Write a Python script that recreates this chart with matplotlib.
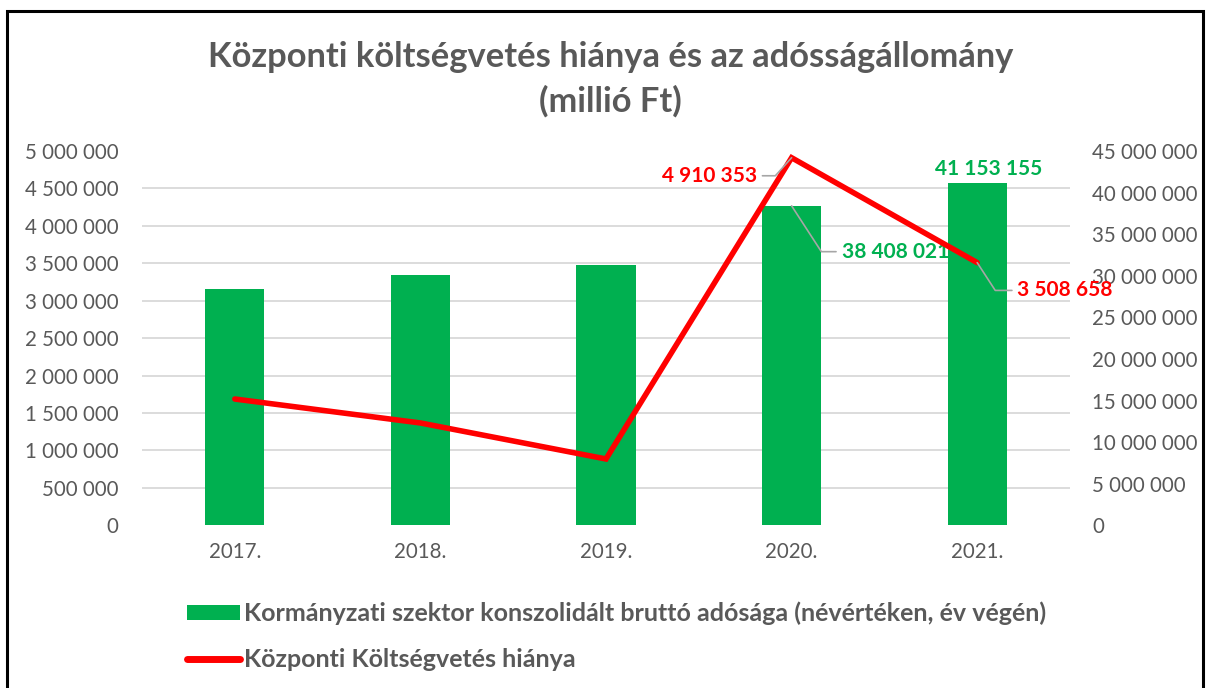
import matplotlib
matplotlib.use("Agg")
import matplotlib.pyplot as plt
import numpy as np
from matplotlib.patches import Patch, Rectangle
from matplotlib.lines import Line2D
from matplotlib.ticker import FuncFormatter

plt.rcParams['font.family'] = ['Lato', 'DejaVu Sans']

# Adatok
evek = ['2017.', '2018.', '2019.', '2020.', '2021.']
adossag = [28_410_000, 30_090_000, 31_260_000, 38_408_021, 41_153_155]
hiany = [1_687_000, 1_367_000, 886_000, 4_910_353, 3_508_658]

bal_tick = np.arange(0, 5_000_001, 500_000)
jobb_tick = np.arange(0, 45_000_001, 5_000_000)

szurke = '#595959'
zold = '#00B050'
piros = '#FF0000'


def ezres(v, pos=None):
    return f"{int(round(v)):,}".replace(",", " ")


W, H = 1206, 688
fig = plt.figure(figsize=(W / 100, H / 100), dpi=100)
fig.patch.set_facecolor('white')

ax = fig.add_axes([142 / W, 1 - 525.3 / H, (1070 - 142) / W, (525.3 - 151) / H])
ax2 = ax.twinx()
ax.set_zorder(ax2.get_zorder() + 1)
ax.patch.set_visible(False)

x = np.arange(len(evek))

# oszlopok a jobb tengelyen
ax2.bar(x, adossag, width=0.32, color=zold, zorder=2)
ax2.set_ylim(0, jobb_tick[-1])
ax2.set_yticks(jobb_tick)
ax2.yaxis.set_major_formatter(FuncFormatter(ezres))
# rácsvonalak a bal tengely beosztásához igazítva
ax2.set_yticks(bal_tick * (jobb_tick[-1] / bal_tick[-1]), minor=True)
ax2.yaxis.grid(True, which='minor', color='#D9D9D9', linewidth=1.3)
ax2.yaxis.grid(False, which='major')
ax2.set_axisbelow(True)
ax2.tick_params(axis='y', which='both', length=0, pad=16, labelsize=14.8, labelcolor=szurke)

# vonal a bal tengelyen
ax.plot(x, hiany, color=piros, linewidth=4, solid_capstyle='round', solid_joinstyle='miter', zorder=3)
ax.set_ylim(0, bal_tick[-1])
ax.set_yticks(bal_tick)
ax.yaxis.set_major_formatter(FuncFormatter(ezres))
ax.set_xlim(-0.5, len(evek) - 0.5)
ax.set_xticks(x)
ax.set_xticklabels(evek)
ax.tick_params(axis='y', length=0, pad=17, labelsize=14.8, labelcolor=szurke)
ax.tick_params(axis='x', length=0, pad=12, labelsize=14.8, labelcolor=szurke)

for a in (ax, ax2):
    for s in a.spines.values():
        s.set_visible(False)

# adatcímkék
vezeto = dict(arrowstyle='-', color='#A6A6A6', linewidth=1.2, shrinkA=2, shrinkB=0)
ax.annotate(ezres(hiany[3]), xy=(x[3], hiany[3]), xytext=(-25, -13), textcoords='offset points',
            ha='right', va='center', fontsize=15, fontweight='bold', color=piros,
            arrowprops=dict(vezeto, connectionstyle='angle,angleA=0,angleB=48,rad=0', relpos=(1, 0.5)))
ax.annotate(ezres(hiany[4]), xy=(x[4], hiany[4]), xytext=(29, -20), textcoords='offset points',
            ha='left', va='center', fontsize=15, fontweight='bold', color=piros,
            arrowprops=dict(vezeto, connectionstyle='angle,angleA=0,angleB=123,rad=0', relpos=(0, 0.5)))
ax2.annotate(ezres(adossag[3]), xy=(x[3], adossag[3]), xytext=(36, -33), textcoords='offset points',
             ha='left', va='center', fontsize=15, fontweight='bold', color=zold,
             arrowprops=dict(vezeto, connectionstyle='angle,angleA=0,angleB=123,rad=0', relpos=(0, 0.5)))
ax2.annotate(ezres(adossag[4]), xy=(x[4], adossag[4]), xytext=(8, 10), textcoords='offset points',
             ha='center', va='center', fontsize=15, fontweight='bold', color=zold)

# cím
fig.text(0.506, 1 - 57 / H, 'Központi költségvetés hiánya és az adósságállomány',
         ha='center', va='center', fontsize=24.8, fontweight='bold', color=szurke)
fig.text(0.506, 1 - 101 / H, '(millió Ft)',
         ha='center', va='center', fontsize=24.8, fontweight='bold', color=szurke)

# jelmagyarázat
kezelok = [Patch(facecolor=zold, edgecolor='none'),
           Line2D([0], [0], color=piros, linewidth=5, solid_capstyle='round')]
cimkek = ['Kormányzati szektor konszolidált bruttó adósága (névértéken, év végén)',
          'Központi Költségvetés hiánya']
leg = fig.legend(kezelok, cimkek, loc='center left', bbox_to_anchor=(187 / W, 1 - 636.5 / H),
                 frameon=False, fontsize=18, handlelength=2.12, handleheight=0.6,
                 handletextpad=0.16, labelspacing=0.92, borderpad=0, borderaxespad=0)
for t in leg.get_texts():
    t.set_color(szurke)
    t.set_fontweight('bold')

# keret
fig.add_artist(Rectangle((7 / W, -0.05), (1203 - 7) / W, 1.05 - 11 / H, transform=fig.transFigure,
                         fill=False, edgecolor='black', linewidth=2.2))

fig.savefig('out.png', dpi=100)
